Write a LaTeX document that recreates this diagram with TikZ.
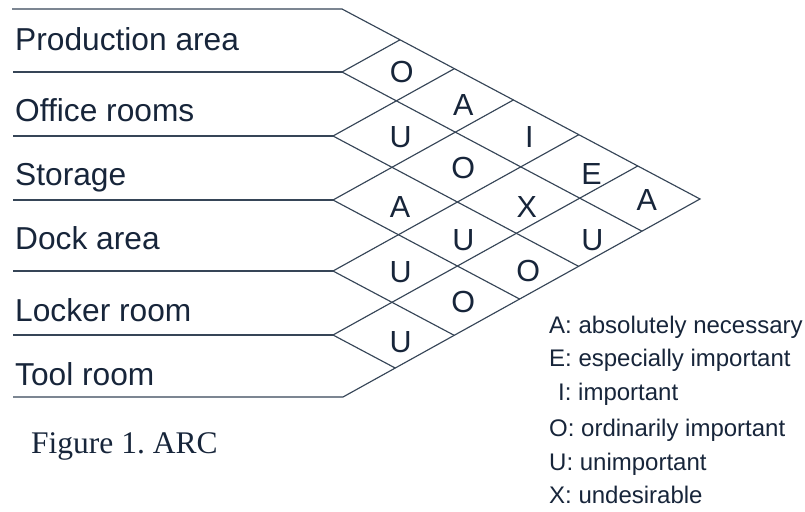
\documentclass[tikz,border=0pt]{standalone}
\usepackage{fontspec}
\setmainfont{Liberation Sans}
\newfontfamily\captionserif{Liberation Serif}
\usetikzlibrary{calc}
\definecolor{ink}{HTML}{17253A}
\definecolor{rule}{HTML}{364557}
\frenchspacing

\begin{document}
\begin{tikzpicture}[x=1pt,y=-1pt,
  grid/.style={draw=rule, line width=1.15pt},
  dept/.style={anchor=base west, inner sep=0pt, text=ink, font=\fontsize{31.7}{31.7}\selectfont},
  cell/.style={inner sep=0pt, text=ink, font=\fontsize{30.5}{30.5}\selectfont},
  key/.style={anchor=base west, inner sep=0pt, text=ink, font=\fontsize{24}{24}\selectfont},
  caption/.style={anchor=base west, inner sep=0pt, text=ink, font=\captionserif\fontsize{31.5}{31.5}\selectfont},
]
\useasboundingbox (0,0) rectangle (805,511);

% left ends of the horizontal rules
\coordinate (H0) at (12,9);
\coordinate (H1) at (13,72);
\coordinate (H2) at (13,136);
\coordinate (H3) at (13,200);
\coordinate (H4) at (13,271);
\coordinate (H5) at (13,335);
\coordinate (H6) at (13,397);
% where the rules meet the diamond grid
\coordinate (P0) at (342,9);
\coordinate (P1) at (342,72);
\coordinate (P2) at (333,136);
\coordinate (P3) at (333,200);
\coordinate (P4) at (333,271);
\coordinate (P5) at (333,335);
\coordinate (P6) at (343,397);
\coordinate (apex) at (700,199);

% outline of the chart
\draw[grid] (H0) -- (P0) -- (apex) -- (P6) -- (H6);
\foreach \k in {1,...,5}{
  \draw[grid] (H\k) -- (P\k);
  % diagonal running down to the lower edge
  \coordinate (D\k) at ($(P\k)+(apex)-(P0)$);
  \coordinate (DE\k) at (intersection cs: first line={(P\k)--(D\k)}, second line={(P6)--(apex)});
  \draw[grid] (P\k) -- (DE\k);
  % diagonal running up to the upper edge
  \coordinate (U\k) at ($(P\k)+(apex)-(P6)$);
  \coordinate (UE\k) at (intersection cs: first line={(P\k)--(U\k)}, second line={(P0)--(apex)});
  \draw[grid] (P\k) -- (UE\k);
}

% department names
\node[dept] (d1) at (15,50.5)  {Production area};
\node[dept] (d2) at (15,121.5) {Office rooms};
\node[dept] (d3) at (15,185.5) {Storage};
\node[dept] (d4) at (15,249.5) {Dock area};
\node[dept] (d5) at (15,321.5) {Locker room};
\node[dept] (d6) at (15,385.5) {Tool room};

% closeness ratings
\node[cell] (r12) at (401.7,71.7)  {O};
\node[cell] (r13) at (463.3,105)   {A};
\node[cell] (r14) at (529.3,136.7) {I};
\node[cell] (r15) at (591.5,174.5) {E};
\node[cell] (r16) at (646.7,200)   {A};
\node[cell] (r23) at (400.7,136.7) {U};
\node[cell] (r24) at (463.3,168.3) {O};
\node[cell] (r25) at (526.7,206.7) {X};
\node[cell] (r26) at (592.3,240)   {U};
\node[cell] (r34) at (400,206.7)   {A};
\node[cell] (r35) at (463.3,240)   {U};
\node[cell] (r36) at (528.3,270.7) {O};
\node[cell] (r45) at (400.7,271.7) {U};
\node[cell] (r46) at (463.3,302.3) {O};
\node[cell] (r56) at (400.7,341.7) {U};

% rating key
\node[key] (kA) at (549,333.5) {A: absolutely necessary};
\node[key] (kE) at (549,366.5) {E: especially important};
\node[key] (kI) at (558,400.5) {I: important};
\node[key] (kO) at (549,436.5) {O: ordinarily important};
\node[key] (kU) at (549,470.5) {U: unimportant};
\node[key] (kX) at (549,503.5) {X: undesirable};

\node[caption] (fig) at (31,453) {Figure 1. ARC};
\end{tikzpicture}
\end{document}
